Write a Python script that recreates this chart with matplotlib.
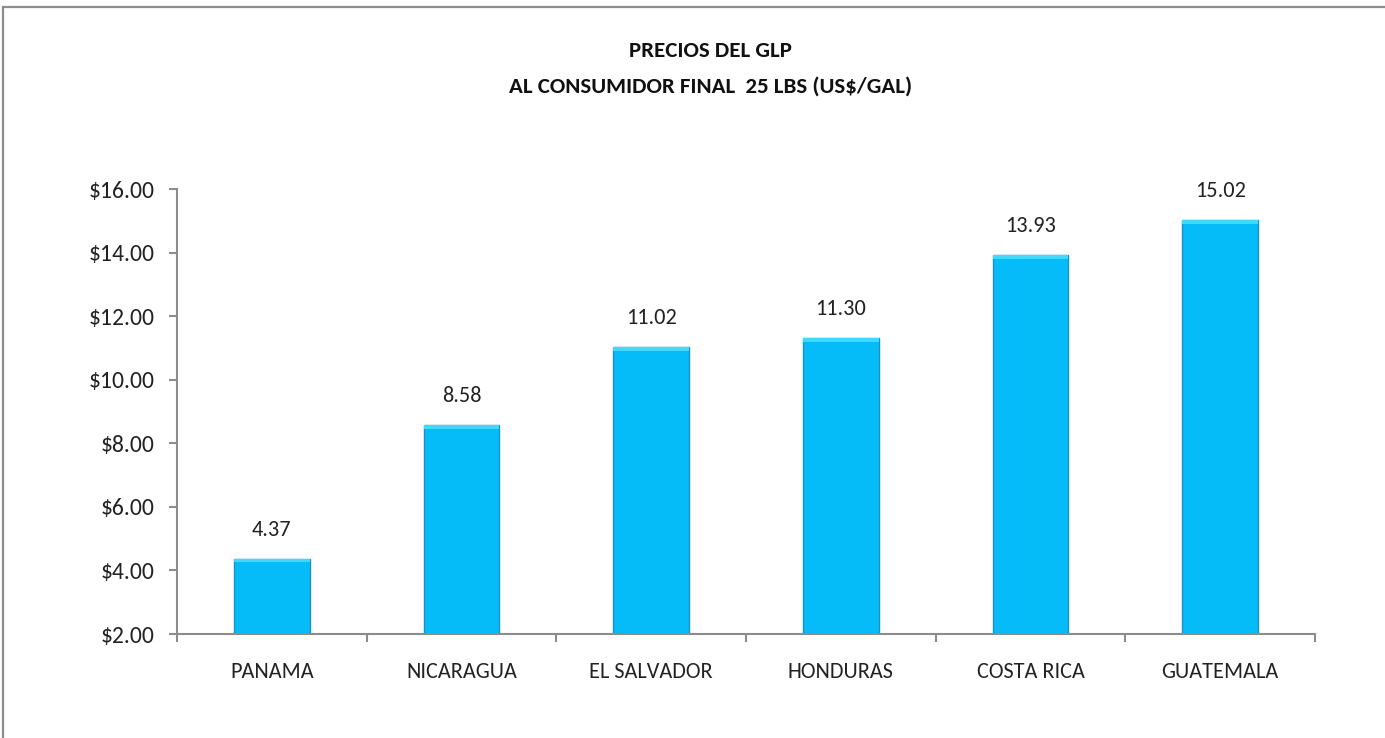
import matplotlib
matplotlib.use('Agg')
import matplotlib.pyplot as plt
from matplotlib import font_manager
from matplotlib.patches import Rectangle
from matplotlib.ticker import FuncFormatter, FixedLocator

countries = ['PANAMA', 'NICARAGUA', 'EL SALVADOR', 'HONDURAS', 'COSTA RICA', 'GUATEMALA']
prices = [4.37, 8.58, 11.02, 11.30, 13.93, 15.02]
yticks = [2, 4, 6, 8, 10, 12, 14, 16]
title = 'PRECIOS DEL GLP\nAL CONSUMIDOR FINAL  25 LBS (US$/GAL)'


def pick_font(candidates):
    for name in candidates:
        try:
            font_manager.findfont(font_manager.FontProperties(family=name),
                                  fallback_to_default=False)
            return name
        except ValueError:
            continue
    return 'DejaVu Sans'


# Calibri look-alike if there is one
main_font = pick_font(['Carlito', 'Liberation Sans Narrow', 'Roboto Condensed',
                       'Open Sans Condensed', 'Liberation Sans'])
plt.rcParams['font.family'] = [main_font, 'DejaVu Sans']

fig = plt.figure(figsize=(13.85, 7.38), dpi=100)
ax = fig.add_axes([0.1278, 0.1409, 0.8217, 0.603])

# chart frame (cut at right and bottom like the reference)
fig.patches.append(Rectangle((3 / 1385, -0.05), 1.2, (738 - 7) / 738 + 0.05,
                             transform=fig.transFigure, fill=False,
                             edgecolor='#8c8c8c', linewidth=1.6))

x = range(len(countries))
bars = ax.bar(x, prices, width=0.4, color='#05BBF8', edgecolor='#1a93c4',
              linewidth=1.0, zorder=2)
# light bevel along the top of each bar
ax.bar(x, [0.12] * len(prices), bottom=[p - 0.12 for p in prices], width=0.4,
       color='#3fd8ff', linewidth=0, zorder=3)

for b, v in zip(bars, prices):
    ax.annotate(f'{v:.2f}', (b.get_x() + b.get_width() / 2, v),
                xytext=(0, 21), textcoords='offset points',
                ha='center', va='center', fontsize=16, color='#222222')

ax.set_xlim(-0.5, len(countries) - 0.5)
ax.set_ylim(2, 16)
ax.set_yticks(yticks)
ax.yaxis.set_major_formatter(FuncFormatter(lambda v, p: f'${v:.2f}'))

ax.set_xticks(list(x))
ax.set_xticklabels(countries)
ax.xaxis.set_minor_locator(FixedLocator([i - 0.5 for i in range(len(countries) + 1)]))
ax.tick_params(axis='x', which='major', length=0, pad=20, labelsize=16, labelcolor='#222222')
ax.tick_params(axis='x', which='minor', length=6, width=1.5, color='#8c8c8c', direction='out')
ax.tick_params(axis='y', length=6, width=1.5, color='#8c8c8c', direction='out',
               pad=10, labelsize=17, labelcolor='#222222')

for s in ['top', 'right']:
    ax.spines[s].set_visible(False)
for s in ['left', 'bottom']:
    ax.spines[s].set_color('#8c8c8c')
    ax.spines[s].set_linewidth(1.5)

fig.text(0.513, 0.9065, title, ha='center', va='center', fontsize=16.5,
         fontweight='bold', linespacing=2.0, color='#111111')

fig.savefig('out.png', dpi=100)
